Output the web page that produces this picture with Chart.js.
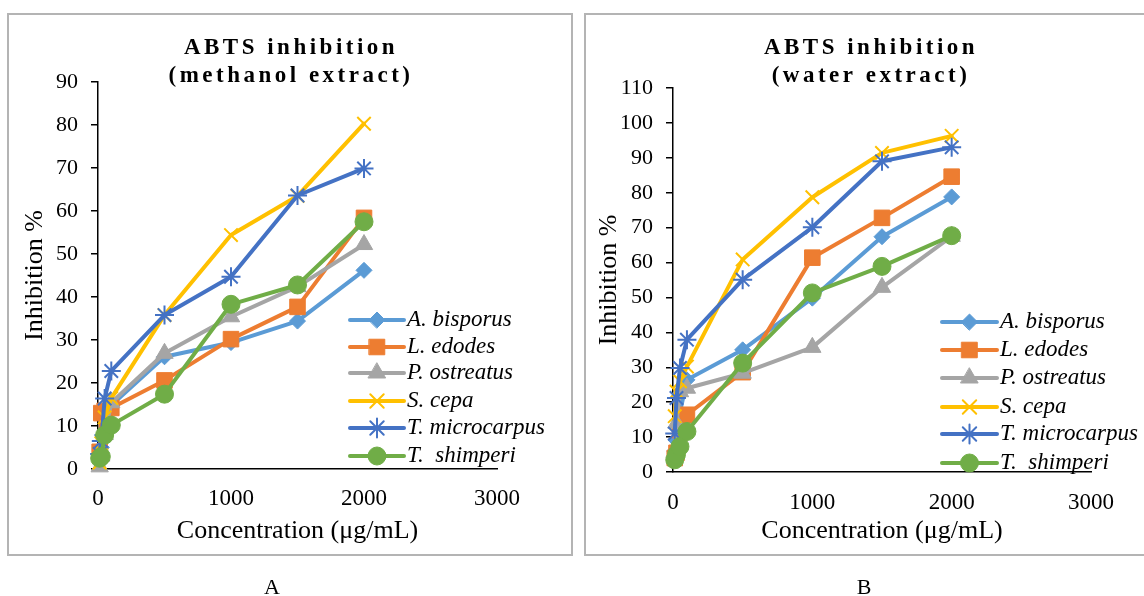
<!DOCTYPE html>
<html lang="en">
<head>
<meta charset="UTF-8">
<title>ABTS inhibition</title>
<script src="https://cdn.jsdelivr.net/npm/chart.js"></script>
<style>
  body { margin: 0; background: #fff; width: 1144px; height: 596px; overflow: hidden; position: relative;
         font-family: "Liberation Serif", "Times New Roman", serif; }
  .box { position: absolute; top: 13px; height: 543px; border: 2px solid #b4b4b4; box-sizing: border-box; }
  .wrap { position: absolute; top: 0; height: 596px; }
  .cap { position: absolute; top: 575px; width: 40px; line-height: 24px; font-size: 22px; text-align: center; }
</style>
</head>
<body>
<div class="box" style="left:7px;width:566px"></div>
<div class="box" style="left:584px;width:600px"></div>
<div class="wrap" style="left:0;width:578px"><canvas id="chartA"></canvas></div>
<div class="wrap" style="left:578px;width:566px"><canvas id="chartB"></canvas></div>
<div class="cap" style="left:252px">A</div>
<div class="cap" style="left:844px">B</div>

<script>
// concentrations (µg/mL) and species
const concentrations = [12.5, 25, 50, 100, 500, 1000, 1500, 2000];
const species = ['A. bisporus', 'L. edodes', 'P. ostreatus', 'S. cepa', 'T. microcarpus', 'T.  shimperi'];

// A - methanol extract, inhibition %
const methBisporus     = [2, 5, 8.5, 14.8, 26.1, 29.4, 34.4, 46.2];
const methEdodes       = [4, 13, 13.5, 14.2, 20.6, 30.2, 37.7, 58.4];
const methOstreatus    = [0.5, 3, 8, 15.4, 26.9, 35.4, 42.4, 52.2];
const methCepa         = [1.5, 6, 12, 16.5, 35.8, 54.4, 63.5, 80.3];
const methMicrocarpus  = [3.5, 6.5, 16.4, 22.8, 35.8, 44.7, 63.6, 69.9];
const methShimperi     = [2.5, 2.9, 7.9, 10.2, 17.4, 38.3, 42.8, 57.5];

// B - water extract, inhibition %
const waterBisporus    = [6, 9, 17, 26.4, 35, 49.8, 67.4, 78.8];
const waterEdodes      = [4, 5.5, 12, 16.4, 28.6, 61.4, 72.8, 84.6];
const waterOstreatus   = [5.5, 14, 23, 24, 28.3, 35.7, 52.9, 67.5];
const waterCepa        = [16, 23, 26, 30.2, 60.9, 78.7, 91.4, 96.3];
const waterMicrocarpus = [11, 21.2, 29.8, 37.9, 55.1, 70.1, 89, 93];
const waterShimperi    = [3.5, 5, 7.3, 11.6, 31.2, 51.3, 58.9, 67.7];

// axis ranges
const xMax = 3000, xStep = 1000;
const yMaxA = 90, yMaxB = 110, yStep = 10;

const colors = ['#5B9BD5', '#ED7D31', '#A5A5A5', '#FFC000', '#4472C4', '#70AD47'];
const marks = [
  { style: 'rectRot',  r: 8,   bw: 1 },
  { style: 'rect',     r: 11,  bw: 1 },
  { style: 'triangle', r: 10,  bw: 1 },
  { style: 'crossRot', r: 9.5, bw: 2 },
  { style: 'star',     r: 9.5, bw: 2 },
  { style: 'circle',   r: 9,   bw: 1 }
];

const serif = '"Liberation Serif", "Times New Roman", serif';
Chart.defaults.font.family = serif;
Chart.defaults.color = '#000';

// titles and legend drawn on top of the chart
const decor = {
  id: 'decor',
  afterDraw(chart, args, o) {
    const ctx = chart.ctx;
    ctx.save();
    ctx.fillStyle = '#000';
    ctx.font = 'bold 23px ' + serif;
    ctx.letterSpacing = '3.5px';
    ctx.textAlign = 'center';
    ctx.textBaseline = 'alphabetic';
    o.title.forEach((t, i) => ctx.fillText(t, o.titleX + 2, o.titleY[i]));
    ctx.letterSpacing = '0px';

    const lg = o.legend;
    chart.data.datasets.forEach((ds, i) => {
      const y = lg.ys[i];
      ctx.strokeStyle = ds.borderColor;
      ctx.lineWidth = 4;
      ctx.lineCap = 'round';
      ctx.beginPath();
      ctx.moveTo(lg.x1, y);
      ctx.lineTo(lg.x2, y);
      ctx.stroke();
      ctx.fillStyle = ds.pointBackgroundColor;
      ctx.strokeStyle = ds.pointBorderColor;
      ctx.lineWidth = ds.pointBorderWidth;
      Chart.helpers.drawPoint(ctx, { pointStyle: ds.pointStyle, radius: ds.pointRadius,
        borderWidth: ds.pointBorderWidth, rotation: 0 }, (lg.x1 + lg.x2) / 2, y);
      ctx.fillStyle = '#000';
      ctx.font = 'italic 23px ' + serif;
      ctx.textAlign = 'left';
      ctx.textBaseline = 'middle';
      ctx.fillText(ds.label, lg.tx, y);
    });
    ctx.restore();
  }
};

function makeChart(id, series, yMax, g) {
  const datasets = series.map((vals, i) => ({
    label: species[i],
    data: concentrations.map((c, k) => ({ x: c, y: vals[k] })),
    showLine: true,
    borderColor: colors[i],
    backgroundColor: colors[i],
    borderWidth: 4,
    borderCapStyle: 'round',
    borderJoinStyle: 'round',
    pointStyle: marks[i].style,
    pointRadius: marks[i].r,
    pointHoverRadius: marks[i].r,
    pointBorderWidth: marks[i].bw,
    pointBackgroundColor: colors[i],
    pointBorderColor: colors[i],
    order: series.length - i,
    clip: false
  }));

  new Chart(document.getElementById(id), {
    type: 'scatter',
    data: { datasets },
    options: {
      responsive: true,
      maintainAspectRatio: false,
      animation: false,
      devicePixelRatio: 1,
      layout: { padding: g.pad },
      plugins: {
        legend: { display: false },
        tooltip: { enabled: false },
        decor: g.decor
      },
      scales: {
        x: {
          type: 'linear',
          min: 0, max: xMax,
          afterFit: (s) => { s.height = g.xHeight; },
          ticks: { stepSize: xStep, padding: g.xTickPad, font: { size: 23 }, color: '#000',
                   callback: (v) => String(v) },
          grid: { display: false, drawTicks: false },
          border: { display: true, color: '#000', width: 1.5 },
          title: { display: true, text: 'Concentration (μg/mL)', font: { size: 26 }, color: '#000',
                   padding: { top: 0, bottom: 2.4 } }
        },
        y: {
          min: 0, max: yMax,
          afterFit: (s) => { s.width = g.yWidth; },
          ticks: { stepSize: yStep, padding: 13, font: { size: 22 }, color: '#000' },
          grid: { display: true, drawOnChartArea: false, drawTicks: true, tickLength: 7,
                  color: '#000', lineWidth: 1.5 },
          border: { display: true, color: '#000', width: 1.5 },
          title: { display: true, text: 'Inhibition %', font: { size: 26 }, color: '#000',
                   padding: { top: g.yTitlePad, bottom: 0 } }
        }
      }
    },
    plugins: [decor]
  });
}

makeChart('chartA',
  [methBisporus, methEdodes, methOstreatus, methCepa, methMicrocarpus, methShimperi],
  yMaxA,
  {
    pad: { left: 0, right: 81, top: 82, bottom: 47 },
    xHeight: 80, yWidth: 98, xTickPad: 16, yTitlePad: 19.4,
    decor: {
      title: ['ABTS inhibition', '(methanol extract)'],
      titleX: 289, titleY: [54, 82],
      legend: { x1: 350, x2: 404, tx: 407, ys: [320, 347, 373, 401, 428, 456] }
    }
  });

makeChart('chartB',
  [waterBisporus, waterEdodes, waterOstreatus, waterCepa, waterMicrocarpus, waterShimperi],
  yMaxB,
  {
    pad: { left: 0, right: 53, top: 88, bottom: 47 },
    xHeight: 77, yWidth: 95, xTickPad: 17, yTitlePad: 15.4,
    decor: {
      title: ['ABTS inhibition', '(water extract)'],
      titleX: 291, titleY: [54, 82],
      legend: { x1: 364, x2: 419, tx: 422, ys: [322, 350, 378, 407, 434, 463] }
    }
  });
</script>
</body>
</html>
